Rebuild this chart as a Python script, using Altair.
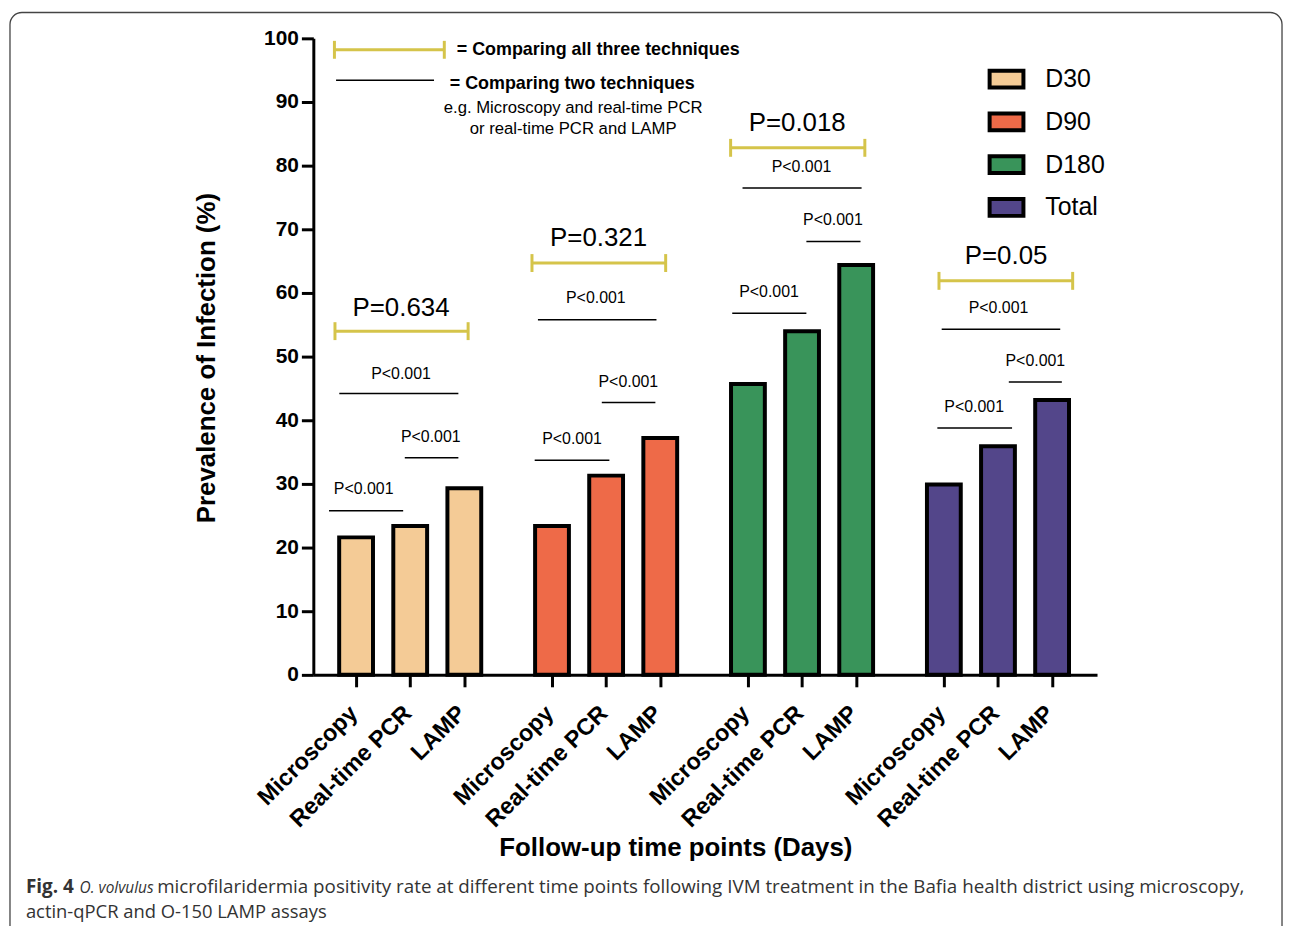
import altair as alt
import pandas as pd

# ---------------- data ----------------
groups = ["D30", "D90", "D180", "Total"]
techniques = ["Microscopy", "Real-time PCR", "LAMP"]
d30 = [21.6, 23.4, 29.3]
d90 = [23.4, 31.3, 37.2]
d180 = [45.7, 54.0, 64.4]
total = [29.9, 35.9, 43.2]
colors = ["#F4CB96", "#EE6A48", "#39945A", "#53468A"]
yellow = "#D5C44A"

p_all = ["P=0.634", "P=0.321", "P=0.018", "P=0.05"]
p_pair = "P<0.001"

# annotation geometry (x offsets relative to the group's first bar, in bar steps; y in %)
br_x1 = [-0.39, -0.37, -0.32, -0.09]
br_x2 = [2.07, 2.10, 2.16, 2.38]
br_y = [54.0, 64.7, 82.8, 61.9]
br_tx = [0.83, 0.86, 0.91, 1.15]
br_ty = [57.7, 68.6, 86.7, 65.8]

ml_x1 = [-0.31, -0.26, -0.10, -0.04]
ml_x2 = [1.89, 1.93, 2.10, 2.15]
ml_y = [44.2, 55.8, 76.5, 54.3]
ml_tx = [0.83, 0.81, 0.99, 1.01]
ml_ty = [47.2, 59.2, 79.8, 57.6]

rl_x1 = [0.90, 0.92, 1.08, 1.20]
rl_x2 = [1.89, 1.91, 2.08, 2.18]
rl_y = [34.1, 42.8, 68.1, 46.0]
rl_tx = [1.38, 1.41, 1.57, 1.69]
rl_ty = [37.3, 46.0, 71.5, 49.3]

mr_x1 = [-0.50, -0.32, -0.29, -0.12]
mr_x2 = [0.87, 1.06, 1.08, 1.26]
mr_y = [25.8, 33.7, 56.8, 38.8]
mr_tx = [0.14, 0.37, 0.39, 0.56]
mr_ty = [29.2, 37.1, 60.2, 42.1]

key_texts = ["= Comparing all three techniques", "= Comparing two techniques"]
key_notes = ["e.g. Microscopy and real-time PCR", "or real-time PCR and LAMP"]

caption_bold = "Fig. 4"
caption_italic = "O. volvulus"
caption_rest = ("microfilaridermia positivity rate at different time points following IVM "
                "treatment in the Bafia health district using microscopy,")
caption_line2 = "actin-qPCR and O-150 LAMP assays"

# ---------------- layout ----------------
GROUP_STEP = 3.62
W, H = 788, 640
FONT = "Liberation Sans"

values = [d30, d90, d180, total]
bars = []
for g, grp in enumerate(groups):
    for t, tech in enumerate(techniques):
        bars.append({"group": grp, "technique": tech, "value": values[g][t],
                     "pos": g * GROUP_STEP + t})
bars_df = pd.DataFrame(bars)

lines, brs, caps, ptxt = [], [], [], []
for g in range(4):
    base = g * GROUP_STEP
    brs.append({"x1": base + br_x1[g], "x2": base + br_x2[g], "y": br_y[g]})
    caps += [{"x": base + br_x1[g], "y": br_y[g]}, {"x": base + br_x2[g], "y": br_y[g]}]
    ptxt.append({"x": base + br_tx[g], "y": br_ty[g], "label": p_all[g], "size": "big"})
    for x1, x2, y, tx, ty in [(ml_x1, ml_x2, ml_y, ml_tx, ml_ty),
                              (rl_x1, rl_x2, rl_y, rl_tx, rl_ty),
                              (mr_x1, mr_x2, mr_y, mr_tx, mr_ty)]:
        lines.append({"x1": base + x1[g], "x2": base + x2[g], "y": y[g]})
        ptxt.append({"x": base + tx[g], "y": ty[g], "label": p_pair, "size": "small"})

# key (top-left explanation)
brs.append({"x1": -0.40, "x2": 1.63, "y": 98.2})
caps += [{"x": -0.40, "y": 98.2}, {"x": 1.63, "y": 98.2}]
lines.append({"x1": -0.37, "x2": 1.44, "y": 93.4})
key_df = pd.DataFrame({"x": [1.86, 1.73], "y": [98.1, 92.8], "label": key_texts})
note_df = pd.DataFrame({"x": [4.01, 4.01], "y": [89.1, 85.7], "label": key_notes})

lines_df = pd.DataFrame(lines)
brs_df = pd.DataFrame(brs)
caps_df = pd.DataFrame(caps)
ptxt_df = pd.DataFrame(ptxt)

xs = alt.Scale(domain=[-0.79, 13.69], nice=False, zero=False, padding=0)
ys = alt.Scale(domain=[0, 100], nice=False, padding=0)

one = pd.DataFrame({"a": [0]})

frame = alt.Chart(one).mark_rect(
    fill="transparent", stroke="#444444", strokeWidth=1.3, cornerRadius=12
).encode(x=alt.value(-305), x2=alt.value(974), y=alt.value(-26), y2=alt.value(H + 400))

bar_layer = alt.Chart(bars_df).mark_bar(size=34, stroke="black", strokeWidth=4).encode(
    x=alt.X("pos:Q", scale=xs,
            axis=alt.Axis(values=[b["pos"] for b in bars], labels=False, tickSize=12,
                          tickWidth=3, tickColor="black", domainWidth=3, domainColor="black",
                          grid=False, title="Follow-up time points (Days)",
                          titleFont=FONT, titleFontSize=26, titleFontWeight="bold",
                          titleColor="black", titleX=364, titleY=174,
                          titleAlign="center", titleBaseline="middle", zindex=1)),
    y=alt.Y("value:Q", scale=ys,
            axis=alt.Axis(values=list(range(0, 101, 10)), tickSize=12, tickWidth=3,
                          tickColor="black", domainWidth=3, domainColor="black", grid=False,
                          labelFont=FONT, labelFontSize=21, labelFontWeight="bold",
                          labelColor="black", labelPadding=3,
                          title="Prevalence of Infection (%)", titleFont=FONT,
                          titleFontSize=26, titleFontWeight="bold", titleColor="black",
                          titleX=-107, titleY=321, titleAngle=270, titleAlign="center",
                          titleBaseline="middle", zindex=1)),
    color=alt.Color("group:N", scale=alt.Scale(domain=groups, range=colors),
                    legend=alt.Legend(title=None, orient="none", legendX=678, legendY=22,
                                      symbolType="M-1,-0.5H1V0.5H-1Z", symbolSize=1156,
                                      symbolStrokeColor="black", symbolStrokeWidth=4,
                                      symbolOpacity=1, labelFont=FONT, labelFontSize=25,
                                      labelColor="black", labelOffset=20, rowPadding=7,
                                      padding=0)),
)

tick_labels = alt.Chart(bars_df).mark_text(
    angle=315, align="right", baseline="middle", font=FONT, fontSize=23.5,
    fontWeight="bold", color="black", dx=-3
).encode(x=alt.X("pos:Q", scale=xs), y=alt.value(H + 33), text="technique:N")

rule_layer = alt.Chart(lines_df).mark_rule(color="black", strokeWidth=1.5).encode(
    x=alt.X("x1:Q", scale=xs), x2="x2:Q", y=alt.Y("y:Q", scale=ys))

bracket_layer = alt.Chart(brs_df).mark_rule(color=yellow, strokeWidth=3).encode(
    x=alt.X("x1:Q", scale=xs), x2="x2:Q", y=alt.Y("y:Q", scale=ys))

cap_layer = alt.Chart(caps_df).mark_tick(
    color=yellow, orient="vertical", size=18, thickness=3, opacity=1
).encode(x=alt.X("x:Q", scale=xs), y=alt.Y("y:Q", scale=ys))

p_big = alt.Chart(ptxt_df[ptxt_df["size"] == "big"]).mark_text(
    font=FONT, fontSize=26, color="black", baseline="middle", align="center"
).encode(x=alt.X("x:Q", scale=xs), y=alt.Y("y:Q", scale=ys), text="label:N")

p_small = alt.Chart(ptxt_df[ptxt_df["size"] == "small"]).mark_text(
    font=FONT, fontSize=16, color="black", baseline="middle", align="center"
).encode(x=alt.X("x:Q", scale=xs), y=alt.Y("y:Q", scale=ys), text="label:N")

key_layer = alt.Chart(key_df).mark_text(
    font=FONT, fontSize=18, fontWeight="bold", color="black", baseline="middle", align="left"
).encode(x=alt.X("x:Q", scale=xs), y=alt.Y("y:Q", scale=ys), text="label:N")

note_layer = alt.Chart(note_df).mark_text(
    font=FONT, fontSize=16.8, color="black", baseline="middle", align="center"
).encode(x=alt.X("x:Q", scale=xs), y=alt.Y("y:Q", scale=ys), text="label:N")

CAP_FONT = "Open Sans"
CAP_COLOR = "#333333"
cap1 = alt.Chart(pd.DataFrame({"t": [caption_bold]})).mark_text(
    font=CAP_FONT, fontSize=19, fontWeight="bold", color=CAP_COLOR, align="left",
    baseline="alphabetic").encode(x=alt.value(-289), y=alt.value(859), text="t:N")
cap2 = alt.Chart(pd.DataFrame({"t": [caption_italic]})).mark_text(
    font=CAP_FONT, fontSize=15.5, fontStyle="italic", color=CAP_COLOR, align="left",
    baseline="alphabetic").encode(x=alt.value(-235), y=alt.value(859), text="t:N")
cap3 = alt.Chart(pd.DataFrame({"t": [caption_rest]})).mark_text(
    font=CAP_FONT, fontSize=18.9, color=CAP_COLOR, align="left",
    baseline="alphabetic").encode(x=alt.value(-157), y=alt.value(859), text="t:N")
cap4 = alt.Chart(pd.DataFrame({"t": [caption_line2]})).mark_text(
    font=CAP_FONT, fontSize=18.5, color=CAP_COLOR, align="left",
    baseline="alphabetic").encode(x=alt.value(-289), y=alt.value(884), text="t:N")

chart = alt.layer(
    frame, bar_layer, tick_labels, rule_layer, bracket_layer, cap_layer,
    p_big, p_small, key_layer, note_layer, cap1, cap2, cap3, cap4
).properties(
    width=W, height=H,
    padding={"left": 307, "top": 28, "right": 188, "bottom": 250},
    autosize=alt.AutoSizeParams(type="none"),
).configure_view(stroke=None)

chart.save("out.html", embed_options={"renderer": "svg", "actions": False})
